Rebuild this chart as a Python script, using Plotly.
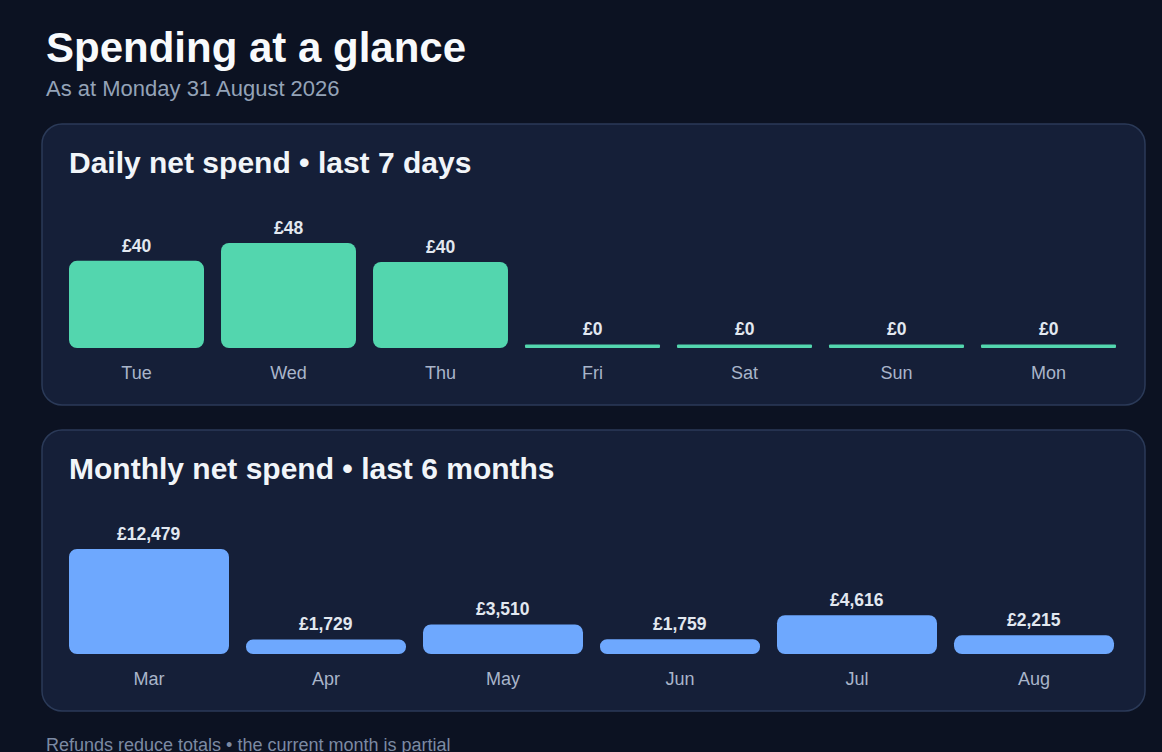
import plotly.graph_objects as go

# Daily net spend, last 7 days (GBP)
days = ["Tue", "Wed", "Thu", "Fri", "Sat", "Sun", "Mon"]
daily_spend = [40.1, 48.3, 39.6, 0, 0, 0, 0]

# Monthly net spend, last 6 months (GBP)
months = ["Mar", "Apr", "May", "Jun", "Jul", "Aug"]
monthly_spend = [12479, 1729, 3510, 1759, 4616, 2215]

title = "Spending at a glance"
subtitle = "As at Monday 31 August 2026"
daily_title = "Daily net spend • last 7 days"
monthly_title = "Monthly net spend • last 6 months"
footer = "Refunds reduce totals • the current month is partial"

W, H = 1162, 752
BG = "#0c1222"
PANEL = "#151f38"
BORDER = "#2b3a58"
GREEN = "#53d6ae"
BLUE = "#6ea8fe"
FONT = "Liberation Sans, Arial, sans-serif"


def px(x):
    return x / W


def py(y):
    return 1 - y / H


def rounded_rect(x0, y0, x1, y1, r):
    # cubic corners, close to a circular arc
    k = r * (1 - 0.5523)
    pts = [
        ("M", [(x0 + r, y0)]),
        ("L", [(x1 - r, y0)]),
        ("C", [(x1 - k, y0), (x1, y0 + k), (x1, y0 + r)]),
        ("L", [(x1, y1 - r)]),
        ("C", [(x1, y1 - k), (x1 - k, y1), (x1 - r, y1)]),
        ("L", [(x0 + r, y1)]),
        ("C", [(x0 + k, y1), (x0, y1 - k), (x0, y1 - r)]),
        ("L", [(x0, y0 + r)]),
        ("C", [(x0, y0 + k), (x0 + k, y0), (x0 + r, y0)]),
    ]
    out = ""
    for cmd, coords in pts:
        out += cmd + " " + " ".join(f"{px(a):.5f},{py(b):.5f}" for a, b in coords) + " "
    return out + "Z"


def stub(values, frac=0.034):
    # zero days still get a thin visible bar
    top = max(values)
    return [max(v, top * frac) for v in values]


daily_plot = stub(daily_spend)
monthly_plot = stub(monthly_spend)

fig = go.Figure()
# an explicit base makes plotly round both ends of each bar
fig.add_trace(go.Bar(x=days, y=daily_plot, base=[0] * len(days), width=0.888,
                     marker=dict(color=GREEN, cornerradius=8, line_width=0),
                     xaxis="x", yaxis="y", hoverinfo="skip"))
fig.add_trace(go.Bar(x=months, y=monthly_plot, base=[0] * len(months), width=0.904,
                     marker=dict(color=BLUE, cornerradius=8, line_width=0),
                     xaxis="x2", yaxis="y2", hoverinfo="skip"))

annotations = []
for d, v, p in zip(days, daily_spend, daily_plot):
    annotations.append(dict(x=d, y=p, xref="x", yref="y", text=f"<b>£{v:,.0f}</b>",
                            showarrow=False, yanchor="bottom", yshift=3,
                            font=dict(size=17.5, color="#e2e8f0")))
for m, v, p in zip(months, monthly_spend, monthly_plot):
    annotations.append(dict(x=m, y=p, xref="x2", yref="y2", text=f"<b>£{v:,.0f}</b>",
                            showarrow=False, yanchor="bottom", yshift=3,
                            font=dict(size=17.5, color="#e2e8f0")))

texts = [
    (title, 44, 48, 42, "#f8fafc", True),
    (subtitle, 44, 88, 22, "#94a3b8", False),
    (daily_title, 67, 162, 30, "#f1f5f9", True),
    (monthly_title, 67, 468, 30, "#f1f5f9", True),
    (footer, 44, 745, 18, "#7c8aa3", False),
]
for t, x, y, size, color, bold in texts:
    annotations.append(dict(x=px(x), y=py(y), xref="paper", yref="paper",
                            text=f"<b>{t}</b>" if bold else t, showarrow=False,
                            xanchor="left", yanchor="middle",
                            font=dict(size=size, color=color)))

shapes = [
    dict(type="path", path=rounded_rect(42, 124, 1145, 405, 20), xref="paper", yref="paper",
         fillcolor=PANEL, line=dict(color=BORDER, width=1.5), layer="below"),
    dict(type="path", path=rounded_rect(42, 430, 1145, 711, 20), xref="paper", yref="paper",
         fillcolor=PANEL, line=dict(color=BORDER, width=1.5), layer="below"),
]

axis_x = dict(showgrid=False, zeroline=False, showline=False, ticks="", fixedrange=True,
              tickfont=dict(size=18, color="#a9b5ca"), ticklabelstandoff=12)
axis_y = dict(visible=False, showgrid=False, zeroline=False, fixedrange=True)

fig.update_layout(
    width=W, height=H,
    margin=dict(l=0, r=0, t=0, b=0),
    paper_bgcolor=BG, plot_bgcolor="rgba(0,0,0,0)",
    font=dict(family=FONT),
    showlegend=False,
    xaxis=dict(axis_x, domain=[px(60.5), px(1124.5)], anchor="y"),
    yaxis=dict(axis_y, domain=[py(348), py(243)], range=[0, max(daily_plot)], anchor="x"),
    xaxis2=dict(axis_x, domain=[px(60.5), px(1122.5)], anchor="y2"),
    yaxis2=dict(axis_y, domain=[py(654), py(549)], range=[0, max(monthly_plot)], anchor="x2"),
    annotations=annotations,
    shapes=shapes,
)

fig.write_html("out.html", config={"displayModeBar": False},
               post_script="document.body.style.margin='0';"
                           "document.body.style.overflow='hidden';"
                           f"document.body.style.background='{BG}';")
